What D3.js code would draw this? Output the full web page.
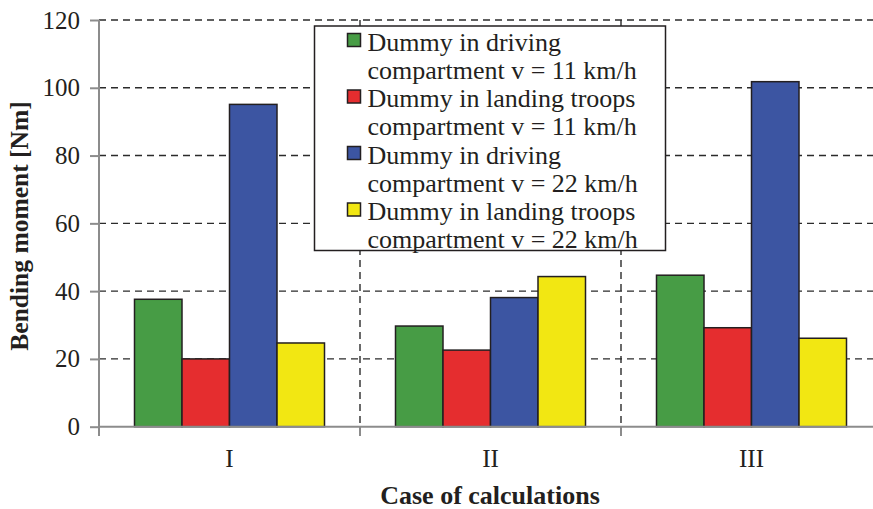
<!DOCTYPE html>
<html><head><meta charset="utf-8">
<script src="https://cdn.jsdelivr.net/npm/d3@7"></script>
<style>
html,body{margin:0;padding:0;background:#fff;}
svg{display:block;}
text{font-family:"Liberation Serif","Times New Roman",serif;fill:#231f20;}
</style></head>
<body>
<svg id="chart" width="873" height="509"></svg>
<script>
const categories = ["I", "II", "III"];
const seriesNames = [
  ["Dummy in driving", "compartment v = 11 km/h"],
  ["Dummy in landing troops", "compartment v = 11 km/h"],
  ["Dummy in driving", "compartment v = 22 km/h"],
  ["Dummy in landing troops", "compartment v = 22 km/h"]
];
const seriesColors = ["#479c45", "#e52d2f", "#3c55a2", "#f2e712"];
const driving11 = [37.6, 29.7, 44.7];
const landing11 = [20.0, 22.6, 29.2];
const driving22 = [95.1, 38.1, 101.8];
const landing22 = [24.7, 44.3, 26.1];
const yTicks = [0, 20, 40, 60, 80, 100, 120];
const yTitle = "Bending moment [Nm]";
const xTitle = "Case of calculations";

const seriesValues = [driving11, landing11, driving22, landing22];

const svg = d3.select("#chart");
const x0 = 99, plotTop = 20, plotBottom = 426.7, bandW = 261;

const x = d3.scaleBand().domain(categories).range([x0, x0 + bandW * categories.length]).padding(0);
const y = d3.scaleLinear().domain([0, 120]).range([plotBottom, plotTop]);
const xs = d3.scaleBand().domain(d3.range(seriesValues.length))
  .range([35.5, 225.5]).padding(0);

// horizontal gridlines
svg.append("g").selectAll("line").data(yTicks.filter(d => d > 0)).join("line")
  .attr("x1", x0).attr("x2", 873)
  .attr("y1", d => y(d)).attr("y2", d => y(d))
  .attr("stroke", "#2b2b2b").attr("stroke-width", 1.4)
  .attr("stroke-dasharray", "7,5");

// vertical gridlines at category boundaries
svg.append("g").selectAll("line").data(categories.slice(1)).join("line")
  .attr("x1", d => x(d)).attr("x2", d => x(d))
  .attr("y1", plotTop).attr("y2", plotBottom)
  .attr("stroke", "#2b2b2b").attr("stroke-width", 1.4)
  .attr("stroke-dasharray", "7,5");

// bars
const groups = svg.append("g").selectAll("g").data(categories).join("g")
  .attr("transform", d => `translate(${x(d)},0)`);
groups.selectAll("rect")
  .data((c, ci) => seriesValues.map((vals, si) => ({si, v: vals[ci]})))
  .join("rect")
  .attr("x", d => xs(d.si))
  .attr("width", xs.bandwidth())
  .attr("y", d => y(d.v))
  .attr("height", d => y(0) - y(d.v))
  .attr("fill", d => seriesColors[d.si])
  .attr("stroke", "#231f20").attr("stroke-width", 1.5);

// axes
const yAxis = d3.axisLeft(y).tickValues(yTicks).tickSize(9).tickFormat("");
const gy = svg.append("g").attr("transform", `translate(${x0},0)`).call(yAxis);
gy.select(".domain").remove();
gy.selectAll(".tick line").attr("stroke", "#8c8c8c").attr("stroke-width", 2);
svg.append("line").attr("x1", x0).attr("x2", x0).attr("y1", plotTop).attr("y2", 436)
  .attr("stroke", "#8c8c8c").attr("stroke-width", 2);

svg.append("line").attr("x1", x0).attr("x2", 873).attr("y1", plotBottom).attr("y2", plotBottom)
  .attr("stroke", "#8c8c8c").attr("stroke-width", 2);
svg.append("g").selectAll("line").data(categories.slice(1)).join("line")
  .attr("x1", d => x(d)).attr("x2", d => x(d))
  .attr("y1", plotBottom).attr("y2", 436)
  .attr("stroke", "#8c8c8c").attr("stroke-width", 2);

// y tick labels
svg.append("g").selectAll("text").data(yTicks).join("text")
  .attr("x", 80).attr("y", d => y(d) + 8.5)
  .attr("text-anchor", "end").attr("font-size", 25)
  .text(d => d);

// category labels
svg.append("g").selectAll("text").data(categories).join("text")
  .attr("x", d => x(d) + x.bandwidth() / 2).attr("y", 467)
  .attr("text-anchor", "middle").attr("font-size", 25)
  .text(d => d);

// titles
svg.append("text").attr("x", 490).attr("y", 504)
  .attr("text-anchor", "middle").attr("font-size", 26).attr("font-weight", "bold")
  .text(xTitle);
svg.append("text").attr("transform", "translate(28,226) rotate(-90)")
  .attr("text-anchor", "middle").attr("font-size", 25.5).attr("font-weight", "bold")
  .text(yTitle);

// legend
const lg = svg.append("g");
lg.append("rect").attr("x", 314.5).attr("y", 26).attr("width", 351).attr("height", 224.5)
  .attr("fill", "#fff").attr("stroke", "#231f20").attr("stroke-width", 1.5);
const items = lg.selectAll("g.item").data(seriesNames).join("g").attr("class", "item")
  .attr("transform", (d, i) => `translate(0,${i * 56.5})`);
items.append("rect").attr("x", 347.5).attr("y", 33.5).attr("width", 13).attr("height", 13)
  .attr("fill", (d, i) => seriesColors[i]).attr("stroke", "#231f20").attr("stroke-width", 1.5);
items.append("text").attr("x", 367.5).attr("y", 50.5).attr("font-size", 26).text(d => d[0]);
items.append("text").attr("x", 367.5).attr("y", 78.5).attr("font-size", 26).text(d => d[1]);
</script>
</body></html>
